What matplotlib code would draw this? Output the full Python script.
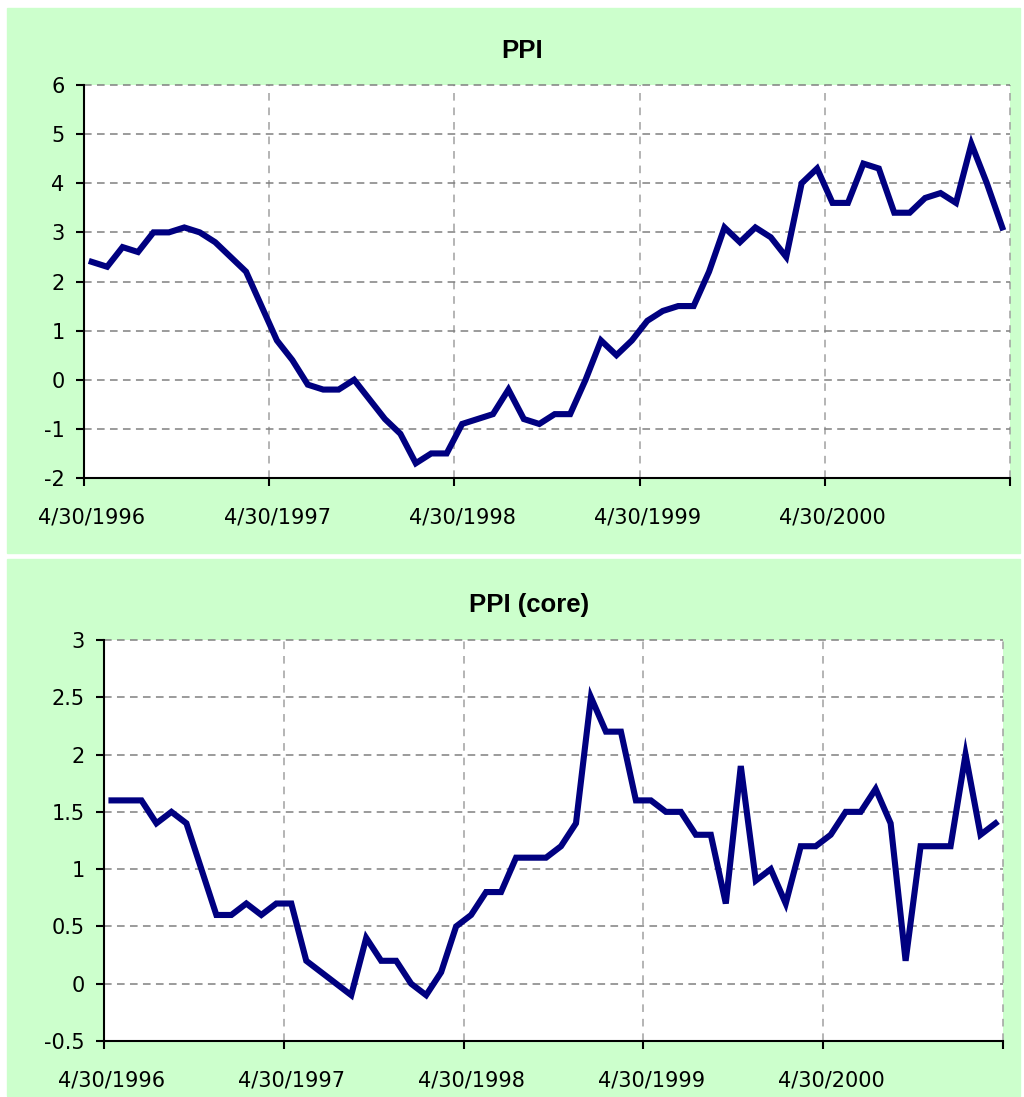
import matplotlib
matplotlib.use('Agg')
import matplotlib.pyplot as plt
import numpy as np
from matplotlib.patches import Rectangle
from matplotlib.transforms import ScaledTranslation


# monthly readings, May 1996 .. Mar 2001
ppi = [2.4, 2.3, 2.7, 2.6, 3.0, 3.0, 3.1, 3.0, 2.8, 2.5,
       2.2, 1.5, 0.8, 0.4, -0.1, -0.2, -0.2, 0.0, -0.4, -0.8,
       -1.1, -1.7, -1.5, -1.5, -0.9, -0.8, -0.7, -0.2, -0.8, -0.9,
       -0.7, -0.7, 0.0, 0.8, 0.5, 0.8, 1.2, 1.4, 1.5, 1.5,
       2.2, 3.1, 2.8, 3.1, 2.9, 2.5, 4.0, 4.3, 3.6, 3.6,
       4.4, 4.3, 3.4, 3.4, 3.7, 3.8, 3.6, 4.8, 4.0, 3.1]

ppi_core = [1.6, 1.6, 1.6, 1.4, 1.5, 1.4, 1.0, 0.6, 0.6, 0.7,
            0.6, 0.7, 0.7, 0.2, 0.1, 0.0, -0.1, 0.4, 0.2, 0.2,
            0.0, -0.1, 0.1, 0.5, 0.6, 0.8, 0.8, 1.1, 1.1, 1.1,
            1.2, 1.4, 2.5, 2.2, 2.2, 1.6, 1.6, 1.5, 1.5, 1.3,
            1.3, 0.7, 1.9, 0.9, 1.0, 0.7, 1.2, 1.2, 1.3, 1.5,
            1.5, 1.7, 1.4, 0.2, 1.2, 1.2, 1.2, 2.0, 1.3, 1.4]

tick_labels = ['4/30/1996', '4/30/1997', '4/30/1998', '4/30/1999', '4/30/2000', '']

months = np.arange(len(ppi)) + 0.5   # points sit mid-month like excel
green = '#CCFFCC'
navy = '#000080'

W, H = 1024, 1097
fig = plt.figure(figsize=(W/100, H/100), dpi=100)
fig.patch.set_facecolor('white')

fig.patches.append(Rectangle((7/W, 1 - 553/H), 1013/W, 545/H,
                             transform=fig.transFigure, color=green, zorder=-10))
fig.patches.append(Rectangle((7/W, 1/H), 1013/W, 537/H,
                             transform=fig.transFigure, color=green, zorder=-10))

shift = ScaledTranslation(8/100, -2/100, fig.dpi_scale_trans)


def panel(rect, values, ylim, ystep, title, title_xy):
    ax = fig.add_axes(rect)
    ax.set_facecolor('white')
    ax.plot(months, values, color=navy, lw=4.4, solid_joinstyle='miter')
    ax.set_xlim(0, 60)
    ax.set_ylim(*ylim)
    ax.set_xticks(np.arange(0, 61, 12))
    ax.set_xticklabels(tick_labels)
    yt = np.arange(ylim[0], ylim[1] + ystep/2, ystep)
    ax.set_yticks(yt)
    ax.set_yticklabels(['%g' % v for v in yt])
    ax.set_axisbelow(True)
    ax.grid(axis='y', color='#808080', lw=1.1, linestyle=(0, (5, 3.5)))
    ax.grid(axis='x', color='#A0A0A0', lw=1.1, linestyle=(0, (5, 4.5)))
    for gl in ax.get_xgridlines() + ax.get_ygridlines():
        gl.set_clip_on(False)
    for s in ['top', 'right']:
        ax.spines[s].set_visible(False)
    for s in ['left', 'bottom']:
        ax.spines[s].set_linewidth(1.5)
        ax.spines[s].set_color('black')
    ax.tick_params(axis='y', direction='out', length=6, width=1.5, pad=8, labelsize=15)
    ax.tick_params(axis='x', direction='out', length=6, width=1.5, pad=14, labelsize=15)
    for lab in ax.get_xticklabels():
        lab.set_transform(lab.get_transform() + shift)
    fig.text(title_xy[0]/W, 1 - title_xy[1]/H, title, ha='center', va='center',
             fontsize=18.5, fontweight='bold', family='Liberation Sans')
    return ax


panel([84/W, 1 - 478/H, (1010 - 84)/W, (478 - 85)/H], ppi, (-2, 6), 1,
      'PPI', (522, 51))
panel([104/W, 1 - 1041/H, (1003 - 104)/W, (1041 - 640)/H], ppi_core, (-0.5, 3), 0.5,
      'PPI (core)', (529, 605))

fig.savefig('out.png', dpi=100)
